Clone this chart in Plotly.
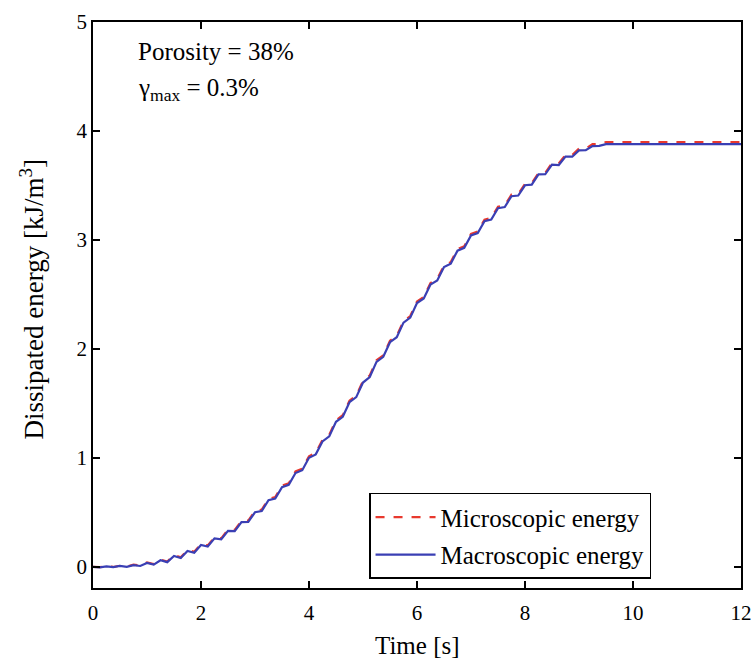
import plotly.graph_objects as go

time_s = [0.000, 0.125, 0.250, 0.375, 0.500, 0.625, 0.750, 0.875,
          1.000, 1.125, 1.250, 1.375, 1.500, 1.625, 1.750, 1.875,
          2.000, 2.125, 2.250, 2.375, 2.500, 2.625, 2.750, 2.875,
          3.000, 3.125, 3.250, 3.375, 3.500, 3.625, 3.750, 3.875,
          4.000, 4.125, 4.250, 4.375, 4.500, 4.625, 4.750, 4.875,
          5.000, 5.125, 5.250, 5.375, 5.500, 5.625, 5.750, 5.875,
          6.000, 6.125, 6.250, 6.375, 6.500, 6.625, 6.750, 6.875,
          7.000, 7.125, 7.250, 7.375, 7.500, 7.625, 7.750, 7.875,
          8.000, 8.125, 8.250, 8.375, 8.500, 8.625, 8.750, 8.875,
          9.000, 9.125, 9.250, 9.375, 9.500, 12.000]

macroscopic = [0.000, -0.003, 0.005, -0.002, 0.009, 0.001, 0.017, 0.009,
               0.037, 0.021, 0.062, 0.044, 0.101, 0.082, 0.147, 0.131,
               0.202, 0.188, 0.262, 0.253, 0.332, 0.328, 0.412, 0.413,
               0.502, 0.513, 0.612, 0.628, 0.732, 0.753, 0.862, 0.888,
               1.002, 1.033, 1.152, 1.198, 1.332, 1.378, 1.512, 1.558,
               1.692, 1.743, 1.882, 1.928, 2.062, 2.108, 2.242, 2.288,
               2.422, 2.463, 2.592, 2.628, 2.752, 2.783, 2.902, 2.928,
               3.042, 3.063, 3.172, 3.188, 3.292, 3.303, 3.402, 3.408,
               3.502, 3.508, 3.602, 3.603, 3.692, 3.688, 3.766, 3.764,
               3.822, 3.823, 3.862, 3.863, 3.880, 3.880]

microscopic = [0.000, -0.002, 0.007, 0.000, 0.012, 0.004, 0.021, 0.013,
               0.042, 0.026, 0.068, 0.050, 0.108, 0.089, 0.155, 0.139,
               0.211, 0.197, 0.272, 0.263, 0.343, 0.339, 0.424, 0.425,
               0.515, 0.526, 0.625, 0.641, 0.746, 0.767, 0.876, 0.902,
               1.016, 1.047, 1.166, 1.212, 1.346, 1.392, 1.526, 1.572,
               1.706, 1.757, 1.896, 1.942, 2.076, 2.122, 2.256, 2.302,
               2.436, 2.477, 2.606, 2.642, 2.766, 2.797, 2.916, 2.942,
               3.056, 3.077, 3.186, 3.202, 3.306, 3.317, 3.416, 3.422,
               3.516, 3.522, 3.616, 3.617, 3.706, 3.702, 3.781, 3.779,
               3.838, 3.839, 3.879, 3.881, 3.899, 3.899]

x_ticks = [0, 2, 4, 6, 8, 10, 12]
y_ticks = [0, 1, 2, 3, 4, 5]

FONT = "Liberation Serif, Times New Roman, serif"

fig = go.Figure()
fig.add_trace(go.Scatter(
    x=time_s, y=microscopic, mode="lines", name="Microscopic energy",
    legendgroup="micro",
    line=dict(color="#e8392e", width=2.2, dash="dash")))
fig.add_trace(go.Scatter(
    x=time_s, y=macroscopic, mode="lines", name="Macroscopic energy",
    legendgroup="macro",
    line=dict(color="#3a3fb4", width=2.2)))

axis_common = dict(
    showline=True, linecolor="black", linewidth=1.5, mirror="ticks",
    ticks="inside", ticklen=7, tickwidth=1.5, tickcolor="black",
    showgrid=False, zeroline=False, automargin=False,
    tickfont=dict(family=FONT, size=21, color="black"),
)

fig.update_xaxes(range=[0, 12], tickvals=x_ticks, ticklabelstandoff=5, **axis_common)
fig.update_yaxes(range=[-0.193, 5], tickvals=y_ticks, **axis_common)

# axis titles placed as annotations for precise positioning
fig.add_annotation(x=0.5, y=-0.101, xref="paper", yref="paper", xanchor="center", yanchor="middle",
                   text="Time [s]", showarrow=False,
                   font=dict(family=FONT, size=25, color="black"))
fig.add_annotation(x=-0.094, y=0.51, xref="paper", yref="paper", xanchor="center", yanchor="middle",
                   text="Dissipated energy [kJ/m<sup>3</sup>]", showarrow=False, textangle=-90,
                   font=dict(family=FONT, size=27, color="black"))

fig.add_annotation(x=0.066, y=0.947, xref="paper", yref="paper", xanchor="left", yanchor="middle",
                   text="Porosity = 38%", showarrow=False,
                   font=dict(family=FONT, size=25, color="black"))
fig.add_annotation(x=0.066, y=0.88, xref="paper", yref="paper", xanchor="left", yanchor="middle",
                   text="γ<sub>max</sub> = 0.3%", showarrow=False,
                   font=dict(family=FONT, size=25, color="black"))

fig.update_layout(
    width=753, height=664,
    margin=dict(l=93, r=12, t=22, b=76, autoexpand=False),
    plot_bgcolor="white", paper_bgcolor="white",
    legend=dict(x=0.426, y=0.168, xanchor="left", yanchor="top",
                bordercolor="black", borderwidth=1.5, bgcolor="white",
                font=dict(family=FONT, size=25, color="black"),
                traceorder="grouped", tracegroupgap=2,
                itemwidth=60),
    showlegend=True,
)

fig.write_html("out.html")
